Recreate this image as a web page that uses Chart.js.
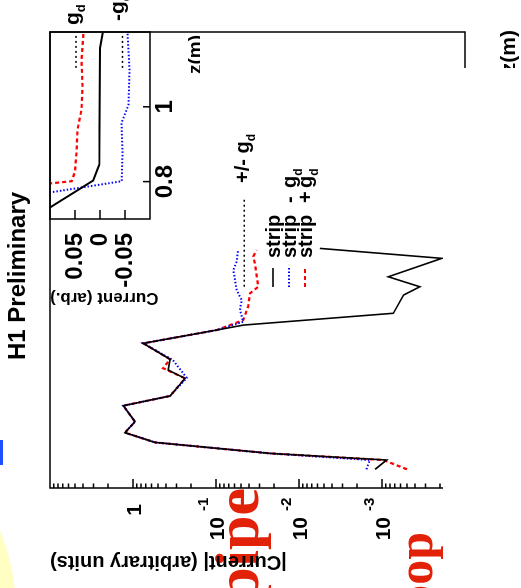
<!DOCTYPE html>
<html>
<head>
<meta charset="utf-8">
<script src="https://cdn.jsdelivr.net/npm/chart.js@4.4.1/dist/chart.umd.min.js"></script>
<style>
  html, body { margin: 0; padding: 0; background: #fff; overflow: hidden; }
  #page { position: relative; width: 521px; height: 588px; overflow: hidden; }
  /* the whole figure is drawn upright, then turned a quarter turn to the left */
  #wrap { position: absolute; left: 0; top: 0; width: 588px; height: 521px;
          transform-origin: 0 0; transform: translate(0, 588px) rotate(-90deg); }
  #wrap canvas, #wrap div { position: absolute; }
  #blob { left: -240px; top: -416px; width: 432px; height: 432px; border-radius: 50%; background: #ffffc4; }
  #blueMark { left: 123px; top: 0; width: 25px; height: 3px; background: #1e50ff; }
  .redWord { font: bold 62px "Liberation Serif", "DejaVu Serif", serif; color: #e22208; white-space: nowrap; line-height: 62px; }
  #cover { left: 0; top: 443px; width: 520px; height: 78px; background: #fff; }
</style>
</head>
<body>
<div id="page">
  <div id="wrap">
    <div id="blob"></div>
    <div id="blueMark"></div>
    <div class="redWord" style="right:488px; top:206px;">pipe</div>
    <div class="redWord" style="right:532px; top:390px; font-size:50px; line-height:50px;">oop</div>
    <canvas id="main" width="588" height="521" style="left:0;top:0;width:588px;height:521px;"></canvas>
    <canvas id="inset" width="308" height="200" style="left:280px;top:0;width:308px;height:200px;"></canvas>
    <div id="cover"></div>
  </div>
</div>
<script>
const FONT = '"Liberation Sans", Arial, Helvetica, sans-serif';

// ---- main plot: |current| vs z ----
const stripZ = [0.090, 0.135, 0.167, 0.220, 0.267, 0.320, 0.397, 0.444, 0.529, 0.569, 0.621, 0.698, 0.762, 0.786, 0.843, 0.931, 0.971, 1.019, 1.108, 1.156];
const stripI = [1.21e-3, 8.8e-4, 0.0223, 0.543, 1.25, 0.946, 1.31, 0.358, 0.236, 0.376, 0.358, 0.751, 0.098, 0.0469, 7.3e-4, 5.5e-4, 3.5e-4, 8.4e-4, 1.9e-4, 5.6e-3];

const minusZ = [0.090, 0.135, 0.167, 0.220, 0.267, 0.320, 0.397, 0.444, 0.531, 0.617, 0.698, 0.762, 0.802, 0.859, 0.907, 0.955, 1.052, 1.092, 1.148];
const minusI = [1.54e-3, 1.4e-3, 0.0223, 0.543, 1.25, 0.946, 1.31, 0.358, 0.225, 0.33, 0.751, 0.098, 0.047, 0.0514, 0.049, 0.0564, 0.0618, 0.0564, 0.0542];

const plusZ = [0.090, 0.135, 0.167, 0.220, 0.267, 0.320, 0.397, 0.444, 0.529, 0.578, 0.621, 0.698, 0.762, 0.810, 0.875, 0.939, 0.971, 1.084, 1.116, 1.148];
const plusI = [5.0e-4, 9.6e-4, 0.0223, 0.543, 1.25, 0.946, 1.31, 0.358, 0.236, 0.434, 0.358, 0.751, 0.098, 0.047, 0.041, 0.039, 0.031, 0.034, 0.0356, 0.0324];

const gdZ = [0.971, 1.405];
const gdI = [0.0456, 0.0456];

const mainTickExps = [0, -1, -2, -3];

// ---- inset: signed current near the edge ----
const insetStripZ = [0.70, 0.803, 0.845, 1.157, 1.198];
const insetStripI = [0.137, 0.0134, 0.0014, 0.0, -0.0054];
const insetMinusZ = [0.70, 0.801, 0.877, 0.957, 1.005, 1.099, 1.198];
const insetMinusI = [0.44, -0.0434, -0.045, -0.043, -0.057, -0.059, -0.055];
const insetPlusZ = [0.70, 0.801, 0.827, 0.877, 0.939, 0.992, 1.054, 1.125, 1.198];
const insetPlusI = [0.8, 0.0566, 0.05, 0.047, 0.045, 0.037, 0.035, 0.037, 0.033];
const insetGdZ = [1.104, 1.192];
const insetGdUp = [0.048, 0.048];
const insetGdDown = [-0.045, -0.045];

const insetXTicks = [0.8, 1];
const insetYTicks = [0.05, 0, -0.05];

const pts = (xs, ys) => xs.map((v, i) => ({ x: v, y: ys[i] }));

function line(label, xs, ys, color, width, dash) {
  return { label, data: pts(xs, ys), showLine: true, pointRadius: 0, borderColor: color,
           borderWidth: width, borderDash: dash, tension: 0, fill: false };
}

// text with "_x" subscript, e.g. "g_d"
function drawSub(ctx, text, x, base, size) {
  const [b, s] = text.split('_');
  ctx.font = 'bold ' + size + 'px ' + FONT;
  ctx.textAlign = 'left';
  ctx.fillText(b, x, base);
  const w = ctx.measureText(b).width;
  if (s) {
    ctx.font = 'bold ' + Math.round(size * 0.6) + 'px ' + FONT;
    ctx.fillText(s, x + w, base + size * 0.3);
  }
}

const mainDecor = {
  id: 'mainDecor',
  afterDraw(chart) {
    const { ctx, chartArea: a, scales: { x, y } } = chart;
    ctx.save();
    ctx.strokeStyle = '#000';
    ctx.fillStyle = '#000';
    ctx.lineWidth = 1.5;
    ctx.strokeRect(a.left, a.top, a.right - a.left, a.bottom - a.top);

    // log ticks, inside the frame
    ctx.beginPath();
    for (let e = -4; e <= 0; e++) {
      for (let m = 1; m <= 9; m++) {
        const py = y.getPixelForValue(m * Math.pow(10, e));
        ctx.moveTo(a.left, py);
        ctx.lineTo(a.left + (m === 1 ? 9 : 4.5), py);
      }
    }
    [0, 0.5, 1, 1.5, 2].forEach(v => {
      const px = x.getPixelForValue(v);
      ctx.moveTo(px, a.bottom);
      ctx.lineTo(px, a.bottom - 9);
    });
    ctx.stroke();

    // log labels
    ctx.textBaseline = 'alphabetic';
    mainTickExps.forEach(e => {
      const py = y.getPixelForValue(Math.pow(10, e));
      ctx.font = 'bold 21px ' + FONT;
      ctx.textAlign = 'right';
      if (e === 0) { ctx.fillText('1', 84, py + 7.5); return; }
      ctx.fillText('10', 71, py + 8);
      ctx.font = 'bold 15px ' + FONT;
      ctx.textAlign = 'left';
      ctx.fillText(String(e), 77, py - 8);
    });

    // axis titles
    ctx.font = 'bold 20px ' + FONT;
    ctx.save();
    ctx.translate(26, a.top);
    ctx.rotate(-Math.PI / 2);
    ctx.textAlign = 'right';
    ctx.textBaseline = 'middle';
    ctx.fillText('|Current| (arbitrary units)', 0, 0);
    ctx.restore();

    ctx.font = 'bold 21px ' + FONT;
    ctx.textAlign = 'right';
    ctx.textBaseline = 'middle';
    ctx.fillText('z(m)', a.right + 2, 509);

    ctx.textBaseline = 'alphabetic';
    ctx.font = 'bold 24px ' + FONT;
    ctx.textAlign = 'left';
    ctx.fillText('H1 Preliminary', 228, 25);

    // +/- g_d tag at the end of the dotted line
    drawSub(ctx, '+/- g_d', 405, 249, 20);

    // legend
    const rows = [280, 296, 312];
    chart.data.datasets.slice(0, 3).forEach((ds, i) => {
      const ly = rows[i] - 7;
      ctx.save();
      ctx.strokeStyle = ds.borderColor;
      ctx.lineWidth = ds.borderWidth;
      ctx.setLineDash(ds.borderDash || []);
      ctx.beginPath();
      ctx.moveTo(301, ly);
      ctx.lineTo(320, ly);
      ctx.stroke();
      ctx.restore();
      const parts = ds.label.split(' ');
      const xs = [330, 385, 400];
      parts.forEach((p, k) => drawSub(ctx, p, xs[k], rows[i], 20));
    });
    ctx.restore();
  }
};

new Chart(document.getElementById('main'), {
  type: 'scatter',
  data: {
    datasets: [
      line('strip', stripZ, stripI, '#000000', 1.6, []),
      line('strip - g_d', minusZ, minusI, '#0000ff', 2, [1.5, 2]),
      line('strip + g_d', plusZ, plusI, '#ff0000', 2.2, [4, 3]),
      line('+/- g_d', gdZ, gdI, '#000000', 1.5, [2, 3])
    ]
  },
  options: {
    responsive: false,
    animation: false,
    devicePixelRatio: 1,
    layout: { padding: { left: 0, right: 32, top: 50, bottom: 0 } },
    plugins: { legend: { display: false }, tooltip: { enabled: false } },
    scales: {
      x: {
        type: 'linear', min: 0, max: 2.2,
        grid: { display: false, drawTicks: false }, border: { display: false },
        ticks: { display: false },
        afterFit: s => { s.height = 56; }
      },
      y: {
        type: 'logarithmic', min: 1e-4, max: 10,
        grid: { display: false, drawTicks: false }, border: { display: false },
        ticks: { display: false },
        afterFit: s => { s.width = 100; }
      }
    }
  },
  plugins: [mainDecor]
});

const insetDecor = {
  id: 'insetDecor',
  afterDraw(chart) {
    const { ctx, chartArea: a, scales: { x, y } } = chart;
    ctx.save();
    ctx.strokeStyle = '#000';
    ctx.fillStyle = '#000';
    ctx.lineWidth = 1.5;
    ctx.strokeRect(a.left, a.top, a.right - a.left, a.bottom - a.top);
    ctx.beginPath();
    insetYTicks.forEach(v => {
      const py = y.getPixelForValue(v);
      ctx.moveTo(a.left, py);
      ctx.lineTo(a.left + 9, py);
    });
    insetXTicks.forEach(v => {
      const px = x.getPixelForValue(v);
      ctx.moveTo(px, a.bottom);
      ctx.lineTo(px, a.bottom - 7);
    });
    ctx.stroke();

    ctx.font = 'bold 19px ' + FONT;
    ctx.textAlign = 'right';
    ctx.textBaseline = 'middle';
    ctx.fillText('z(m)', a.right - 3, a.bottom + 46);
    ctx.font = 'bold 17px ' + FONT;
    ctx.save();
    ctx.translate(10, a.top);
    ctx.rotate(-Math.PI / 2);
    ctx.fillText('Current (arb.)', 0, 0);
    ctx.restore();

    ctx.textBaseline = 'alphabetic';
    drawSub(ctx, 'g_d', 283, 79, 21);
    drawSub(ctx, '-g_d', 287, 124, 21);
    ctx.restore();
  }
};

new Chart(document.getElementById('inset'), {
  type: 'scatter',
  data: {
    datasets: [
      line('strip', insetStripZ, insetStripI, '#000000', 2, []),
      line('strip - g_d', insetMinusZ, insetMinusI, '#0000ff', 2, [1.5, 2]),
      line('strip + g_d', insetPlusZ, insetPlusI, '#ff0000', 2.2, [4, 3]),
      line('g_d', insetGdZ, insetGdUp, '#000000', 1.5, [2, 3]),
      line('-g_d', insetGdZ, insetGdDown, '#000000', 1.5, [2, 3])
    ]
  },
  options: {
    responsive: false,
    animation: false,
    devicePixelRatio: 1,
    layout: { padding: { left: 0, right: 32, top: 50, bottom: 0 } },
    plugins: { legend: { display: false }, tooltip: { enabled: false } },
    scales: {
      x: {
        type: 'linear', min: 0.7, max: 1.2,
        grid: { display: false, drawTicks: false }, border: { display: false },
        afterBuildTicks: s => { s.ticks = insetXTicks.map(v => ({ value: v })); },
        ticks: { color: '#000', font: { family: FONT, size: 24, weight: 'bold' }, padding: 1,
                 maxRotation: 0, minRotation: 0, autoSkip: false, callback: v => String(v) },
        afterFit: s => { s.height = 50; }
      },
      y: {
        type: 'linear', min: -0.1, max: 0.1,
        grid: { display: false, drawTicks: false }, border: { display: false },
        afterBuildTicks: s => { s.ticks = insetYTicks.map(v => ({ value: v })); },
        ticks: { color: '#000', font: { family: FONT, size: 24, weight: 'bold' }, padding: 14,
                 callback: v => (Math.abs(v) < 1e-9 ? '0' : v.toFixed(2)) },
        afterFit: s => { s.width = 89; }
      }
    }
  },
  plugins: [insetDecor]
});
</script>
</body>
</html>
